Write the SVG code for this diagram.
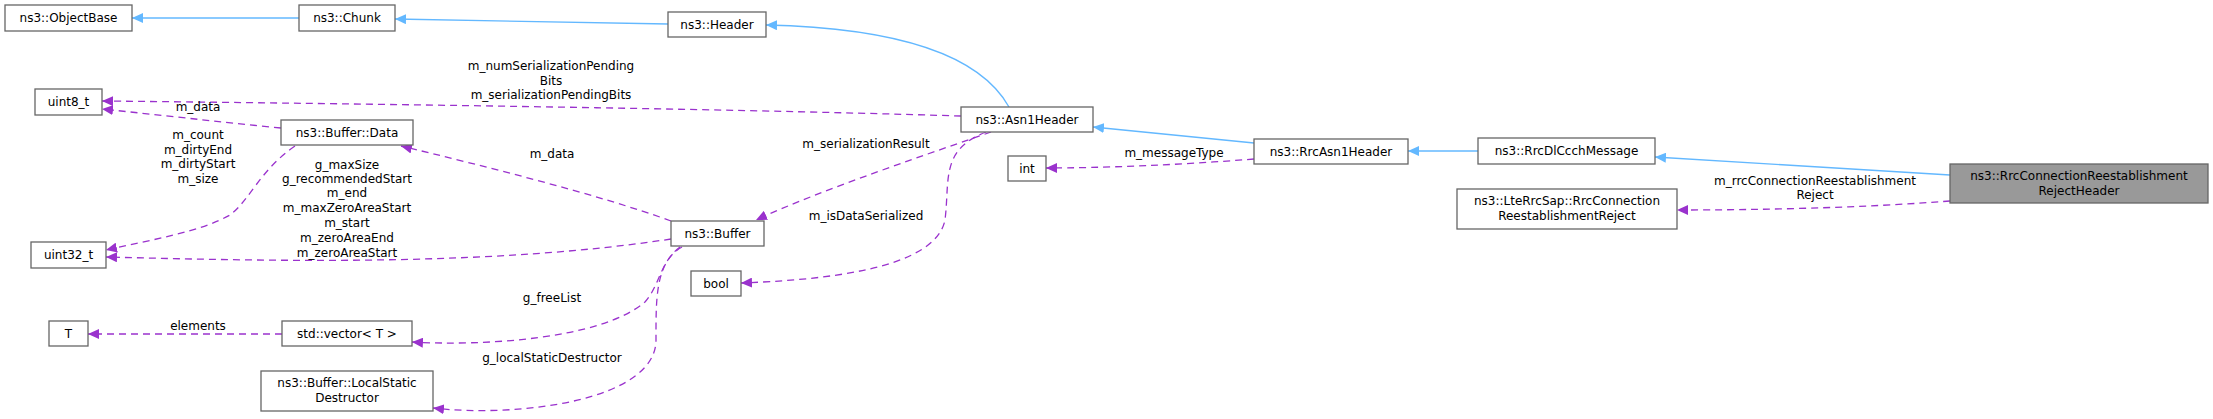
<svg xmlns="http://www.w3.org/2000/svg" width="2213" height="419" viewBox="0 0 2213 419">
<style>
.n rect{fill:#fff;stroke:#666;stroke-width:1.3}
text{font-family:"DejaVu Sans","Liberation Sans",sans-serif;font-size:12px;fill:#000;text-anchor:middle}
.b{fill:none;stroke:#63b8ff;stroke-width:1.3}
.d{fill:none;stroke:#9a32cd;stroke-width:1.3;stroke-dasharray:7,5}
</style>
<defs>
<marker id="ab" markerWidth="12" markerHeight="10" refX="11" refY="5" orient="auto" markerUnits="userSpaceOnUse"><path d="M0,0 L11,5 L0,10 z" fill="#63b8ff"/></marker>
<marker id="ap" markerWidth="12" markerHeight="10" refX="11" refY="5" orient="auto" markerUnits="userSpaceOnUse"><path d="M0,0 L11,5 L0,10 z" fill="#9a32cd"/></marker>
</defs>
<rect width="2213" height="419" fill="#fff"/>
<g id="edges">
<path class="b" marker-end="url(#ab)" d="M299,18 L132,18"/>
<path class="b" marker-end="url(#ab)" d="M668,24 L395,19"/>
<path class="b" marker-end="url(#ab)" d="M1009,107 C980,55 900,28 766,25"/>
<path class="b" marker-end="url(#ab)" d="M1254,143 L1093,127"/>
<path class="b" marker-end="url(#ab)" d="M1478,151 L1408,151"/>
<path class="b" marker-end="url(#ab)" d="M1950,175 L1655,157"/>
<path class="d" marker-end="url(#ap)" d="M1950,201 C1860,208 1760,210 1677,210"/>
<path class="d" marker-end="url(#ap)" d="M1254,159 C1180,165 1100,168 1046,168"/>
<path class="d" marker-end="url(#ap)" d="M991,132 C940,150 820,190 756,220"/>
<path class="d" marker-end="url(#ap)" d="M986,132 C940,150 950,180 945,220 C935,270 820,280 741,283"/>
<path class="d" marker-end="url(#ap)" d="M961,116 C700,108 300,103 102,101"/>
<path class="d" marker-end="url(#ap)" d="M281,128 C220,122 160,115 102,109"/>
<path class="d" marker-end="url(#ap)" d="M671,221 C600,195 480,165 401,146"/>
<path class="d" marker-end="url(#ap)" d="M295,146 C260,170 250,200 230,215 C200,232 150,240 106,250"/>
<path class="d" marker-end="url(#ap)" d="M671,239 C500,265 300,262 106,257"/>
<path class="d" marker-end="url(#ap)" d="M680,247 C660,262 660,285 645,302 C600,340 480,346 412,342"/>
<path class="d" marker-end="url(#ap)" d="M682,247 C655,262 656,300 656,340 C656,400 520,418 433,408"/>
<path class="d" marker-end="url(#ap)" d="M282,334 L88,334"/>
</g>
<g id="labels">
<text x="551" y="70">m_numSerializationPending</text>
<text x="551" y="85">Bits</text>
<text x="551" y="99">m_serializationPendingBits</text>
<text x="198" y="111">m_data</text>
<text x="198" y="139">m_count</text>
<text x="198" y="154">m_dirtyEnd</text>
<text x="198" y="168">m_dirtyStart</text>
<text x="198" y="183">m_size</text>
<text x="552" y="158">m_data</text>
<text x="347" y="169">g_maxSize</text>
<text x="347" y="183">g_recommendedStart</text>
<text x="347" y="197">m_end</text>
<text x="347" y="212">m_maxZeroAreaStart</text>
<text x="347" y="227">m_start</text>
<text x="347" y="242">m_zeroAreaEnd</text>
<text x="347" y="257">m_zeroAreaStart</text>
<text x="866" y="148">m_serializationResult</text>
<text x="866" y="220">m_isDataSerialized</text>
<text x="1174" y="157">m_messageType</text>
<text x="1815" y="185">m_rrcConnectionReestablishment</text>
<text x="1815" y="199">Reject</text>
<text x="552" y="302">g_freeList</text>
<text x="552" y="362">g_localStaticDestructor</text>
<text x="198" y="330">elements</text>
</g>
<g id="n-objectbase" class="n"><rect x="5" y="5" width="127" height="26"/><text x="68.5" y="22">ns3::ObjectBase</text></g>
<g id="n-chunk" class="n"><rect x="299" y="5" width="96" height="26"/><text x="347" y="22">ns3::Chunk</text></g>
<g id="n-header" class="n"><rect x="668" y="12" width="98" height="25"/><text x="717" y="29">ns3::Header</text></g>
<g id="n-uint8" class="n"><rect x="35" y="89" width="67" height="26"/><text x="68.5" y="106">uint8_t</text></g>
<g id="n-bufdata" class="n"><rect x="281" y="120" width="132" height="25"/><text x="347" y="137">ns3::Buffer::Data</text></g>
<g id="n-uint32" class="n"><rect x="31" y="242" width="75" height="26"/><text x="68.5" y="259">uint32_t</text></g>
<g id="n-T" class="n"><rect x="49" y="321" width="39" height="25"/><text x="68.5" y="338">T</text></g>
<g id="n-vector" class="n"><rect x="282" y="321" width="130" height="25"/><text x="347" y="338">std::vector&lt; T &gt;</text></g>
<g id="n-localstatic" class="n"><rect x="261" y="371" width="172" height="40"/><text x="347" y="387">ns3::Buffer::LocalStatic</text><text x="347" y="402">Destructor</text></g>
<g id="n-buffer" class="n"><rect x="671" y="221" width="93" height="25"/><text x="717.5" y="238">ns3::Buffer</text></g>
<g id="n-bool" class="n"><rect x="691" y="271" width="50" height="25"/><text x="716" y="288">bool</text></g>
<g id="n-int" class="n"><rect x="1008" y="156" width="38" height="25"/><text x="1027" y="173">int</text></g>
<g id="n-asn1" class="n"><rect x="961" y="107" width="132" height="25"/><text x="1027" y="124">ns3::Asn1Header</text></g>
<g id="n-rrcasn1" class="n"><rect x="1254" y="139" width="154" height="25"/><text x="1331" y="156">ns3::RrcAsn1Header</text></g>
<g id="n-dlccch" class="n"><rect x="1478" y="138" width="177" height="26"/><text x="1566.5" y="155">ns3::RrcDlCcchMessage</text></g>
<g id="n-ltesap" class="n"><rect x="1457" y="189" width="220" height="40"/><text x="1567" y="205">ns3::LteRrcSap::RrcConnection</text><text x="1567" y="220">ReestablishmentReject</text></g>
<g id="n-main" class="n"><rect x="1950" y="164" width="258" height="39" style="fill:#999"/><text x="2079" y="180">ns3::RrcConnectionReestablishment</text><text x="2079" y="195">RejectHeader</text></g>
</svg>
